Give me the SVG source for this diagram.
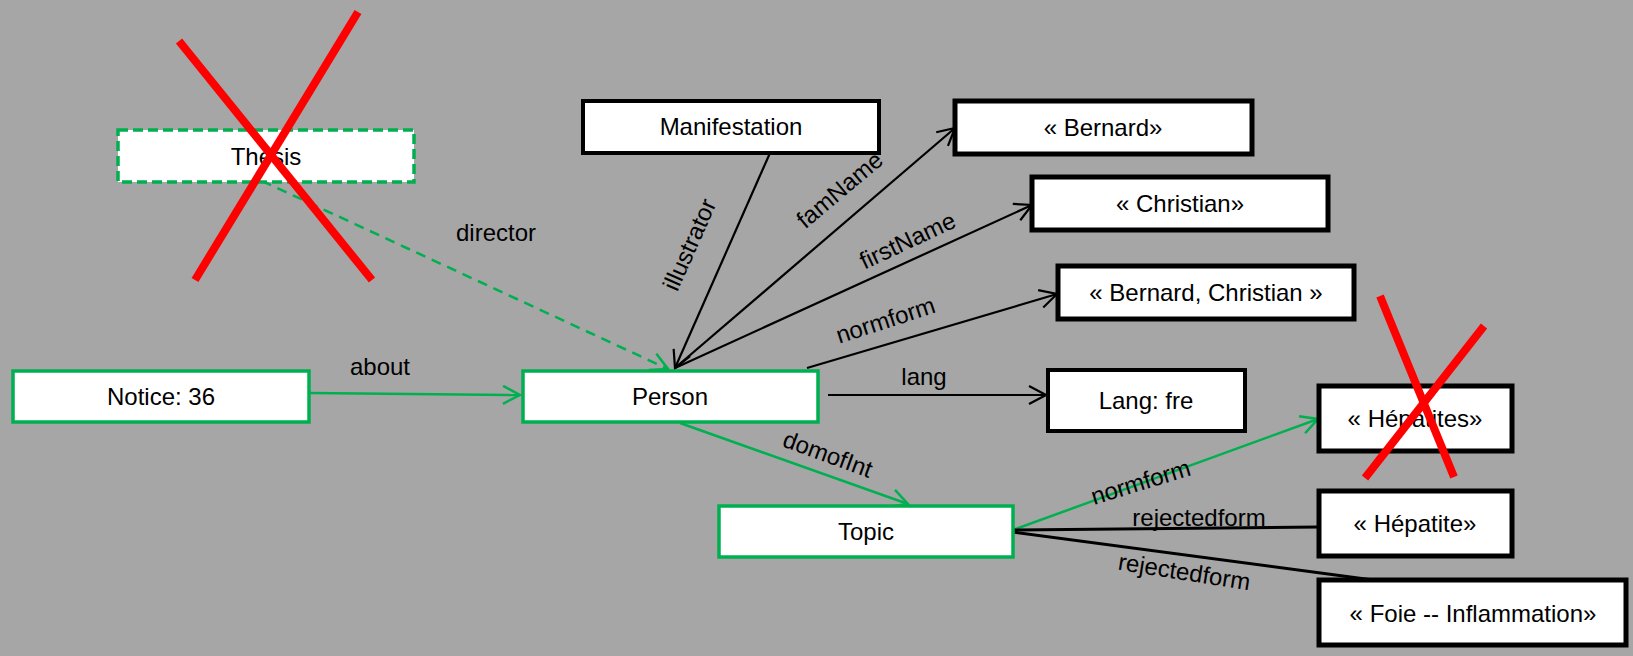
<svg xmlns="http://www.w3.org/2000/svg" width="1633" height="656" viewBox="0 0 1633 656">
<style>
  text { font-family: "Liberation Sans", Arial, sans-serif; font-size: 24px; fill: #000; }
  .node text { text-anchor: middle; }
  .gbox { fill: #fff; stroke: #00B050; stroke-width: 3.5; }
  .gdash { fill: #fff; stroke: #00B050; stroke-width: 3.5; stroke-dasharray: 10 5; }
  .bbox { fill: #fff; stroke: #000; stroke-width: 4; }
  .bbox2 { fill: #fff; stroke: #000; stroke-width: 5; }
  .gl { stroke: #00B050; stroke-width: 2.5; fill: none; }
  .bl { stroke: #000; stroke-width: 2.2; fill: none; }
  .bl3 { stroke: #000; stroke-width: 3; fill: none; }
  .lbl { text-anchor: middle; }
  .cross { stroke: #FF0000; stroke-width: 8; fill: none; }
</style>
<defs>
  <marker id="ag" viewBox="0 0 20 20" refX="18" refY="10" markerWidth="20" markerHeight="20" markerUnits="userSpaceOnUse" orient="auto">
    <path d="M1,1 L18,10 L1,19" fill="none" stroke="#00B050" stroke-width="2.5"/>
  </marker>
  <marker id="ab" viewBox="0 0 20 20" refX="18" refY="10" markerWidth="20" markerHeight="20" markerUnits="userSpaceOnUse" orient="auto">
    <path d="M1,1 L18,10 L1,19" fill="none" stroke="#000" stroke-width="2.2"/>
  </marker>
</defs>
<rect x="0" y="0" width="1633" height="656" fill="#A6A6A6"/>

<g id="connectors">
  <line class="gl" x1="309" y1="393" x2="520" y2="395" marker-end="url(#ag)"/>
  <text class="lbl" x="380" y="375">about</text>
  <line class="gl" x1="262" y1="181" x2="668" y2="369" stroke-dasharray="10 7" marker-end="url(#ag)"/>
  <text class="lbl" x="496" y="241">director</text>
  <line class="bl" x1="770" y1="153" x2="675" y2="368" marker-end="url(#ab)"/>
  <text class="lbl" transform="translate(697,248) rotate(-66)">illustrator</text>
  <line class="bl" x1="675" y1="368" x2="955" y2="128" marker-end="url(#ab)"/>
  <text class="lbl" transform="translate(845,196) rotate(-40)">famName</text>
  <line class="bl" x1="675" y1="368" x2="1032" y2="205" marker-end="url(#ab)"/>
  <text class="lbl" transform="translate(911,248) rotate(-25)">firstName</text>
  <line class="bl" x1="807" y1="368" x2="1057" y2="294" marker-end="url(#ab)"/>
  <text class="lbl" transform="translate(888,328) rotate(-18)">normform</text>
  <line class="bl" x1="828" y1="395" x2="1046" y2="395" marker-end="url(#ab)"/>
  <text class="lbl" x="924" y="385">lang</text>
  <line class="gl" x1="680" y1="423" x2="908" y2="504" marker-end="url(#ag)"/>
  <text class="lbl" transform="translate(825,462) rotate(20)">domofInt</text>
  <line class="gl" x1="1013" y1="530" x2="1318" y2="419" marker-end="url(#ag)"/>
  <text class="lbl" transform="translate(1143,490) rotate(-17)">normform</text>
  <line class="bl3" x1="1013" y1="530" x2="1319" y2="527"/>
  <text class="lbl" x="1199" y="526">rejectedform</text>
  <line class="bl3" x1="1013" y1="532" x2="1373" y2="580"/>
  <text class="lbl" transform="translate(1183,580) rotate(9)">rejectedform</text>
</g>

<g id="node-thesis" class="node">
  <rect class="gdash" x="118" y="130" width="296" height="52"/>
  <text x="266" y="165">Thesis</text>
</g>
<g id="node-notice" class="node">
  <rect class="gbox" x="13" y="371" width="296" height="51"/>
  <text x="161" y="405">Notice: 36</text>
</g>
<g id="node-person" class="node">
  <rect class="gbox" x="523" y="371" width="295" height="51"/>
  <text x="670" y="405">Person</text>
</g>
<g id="node-topic" class="node">
  <rect class="gbox" x="719" y="506" width="294" height="51"/>
  <text x="866" y="540">Topic</text>
</g>
<g id="node-manifestation" class="node">
  <rect class="bbox" x="583" y="101" width="296" height="52"/>
  <text x="731" y="135">Manifestation</text>
</g>
<g id="node-bernard" class="node">
  <rect class="bbox2" x="955" y="101" width="297" height="53"/>
  <text x="1103" y="136">« Bernard»</text>
</g>
<g id="node-christian" class="node">
  <rect class="bbox2" x="1032" y="177" width="296" height="53"/>
  <text x="1180" y="212">« Christian»</text>
</g>
<g id="node-bernard-christian" class="node">
  <rect class="bbox2" x="1058" y="266" width="296" height="53"/>
  <text x="1206" y="301">« Bernard, Christian »</text>
</g>
<g id="node-lang" class="node">
  <rect class="bbox" x="1048" y="370" width="197" height="61"/>
  <text x="1146" y="409">Lang: fre</text>
</g>
<g id="node-hepatites" class="node">
  <rect class="bbox2" x="1319" y="386" width="193" height="65"/>
  <text x="1415" y="427">« Hépatites»</text>
</g>
<g id="node-hepatite" class="node">
  <rect class="bbox2" x="1319" y="491" width="193" height="65"/>
  <text x="1415" y="532">« Hépatite»</text>
</g>
<g id="node-foie" class="node">
  <rect class="bbox2" x="1319" y="580" width="307" height="65"/>
  <text x="1473" y="622">« Foie -- Inflammation»</text>
</g>

<g id="crosses">
  <line class="cross" x1="179" y1="41" x2="372" y2="280"/>
  <line class="cross" x1="358" y1="12" x2="195" y2="280"/>
  <line class="cross" stroke-width="7" x1="1380" y1="296" x2="1454" y2="477"/>
  <line class="cross" stroke-width="7" x1="1484" y1="326" x2="1365" y2="478"/>
</g>
</svg>
